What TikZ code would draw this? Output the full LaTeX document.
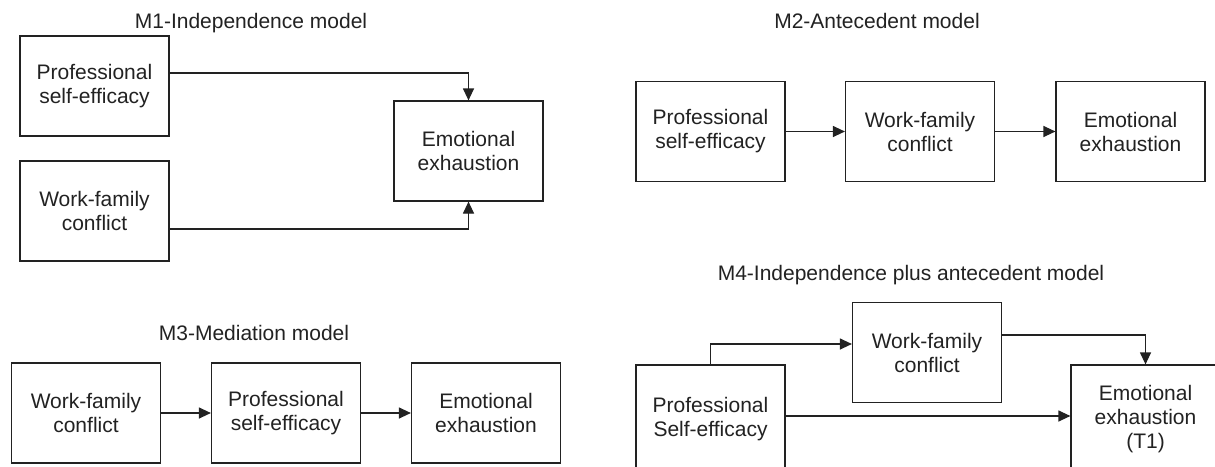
\documentclass[tikz,border=0pt]{standalone}
\usepackage{fontspec}
\setmainfont{Liberation Sans}
\usepackage{tikz}
\usetikzlibrary{arrows.meta}
\definecolor{ink}{HTML}{222222}

\begin{document}
\begin{tikzpicture}[x=0.5pt,y=-0.5pt,
    box/.style={draw=ink,line width=0.6pt,minimum width=74.5pt,minimum height=50pt,inner sep=0pt,align=center,text=ink,font=\fontsize{10.5}{12}\selectfont},
    ttl/.style={anchor=base,text=ink,font=\fontsize{10.5}{12}\selectfont},
    arr/.style={draw=ink,line width=0.6pt,-{Triangle[length=6pt,width=5.5pt]}}]
    \useasboundingbox[fill=white] (0,0) rectangle (1215,466);
    \node[ttl] (t1) at (251,28) {M1-Independence model};
    \node[box] (a1) at (94.5,86) {Professional\\self-efficacy};
    \node[box] (b1) at (94.5,211) {Work-family\\conflict};
    \node[box] (e1) at (468.5,151) {Emotional\\exhaustion};
    \draw[arr] ([yshift=6.5pt]a1.east) -| (e1.north);
    \draw[arr] ([yshift=-9pt]b1.east) -| (e1.south);
    \node[ttl] (t2) at (877,28) {M2-Antecedent model};
    \node[box] (a2) at (710.5,131.5) {Professional\\self-efficacy};
    \node[box] (b2) at (920,131.5) {Work-family\\conflict};
    \node[box] (e2) at (1130.5,131.5) {Emotional\\exhaustion};
    \draw[arr] (a2) -- (b2);
    \draw[arr] (b2) -- (e2);
    \node[ttl] (t3) at (254,340) {M3-Mediation model};
    \node[box] (b3) at (86,413) {Work-family\\conflict};
    \node[box] (a3) at (286,413) {Professional\\self-efficacy};
    \node[box] (e3) at (486,413) {Emotional\\exhaustion};
    \draw[arr] (b3) -- (a3);
    \draw[arr] (a3) -- (e3);
    \node[ttl] (t4) at (911,280) {M4-Independence plus antecedent model};
    \node[box,minimum height=54pt] (a4) at (710.5,419) {Professional\\Self-efficacy};
    \node[box] (b4) at (927,352.5) {Work-family\\conflict};
    \node[box,minimum height=54pt] (e4) at (1145.5,419) {Emotional\\exhaustion\\(T1)};
    \draw[arr] (a4.north) |- ([yshift=4.25pt]b4.west);
    \draw[arr] ([yshift=8.75pt]b4.east) -| (e4.north);
    \draw[arr] ([yshift=1.5pt]a4.east) -- ([yshift=1.5pt]e4.west);
\end{tikzpicture}
\end{document}
